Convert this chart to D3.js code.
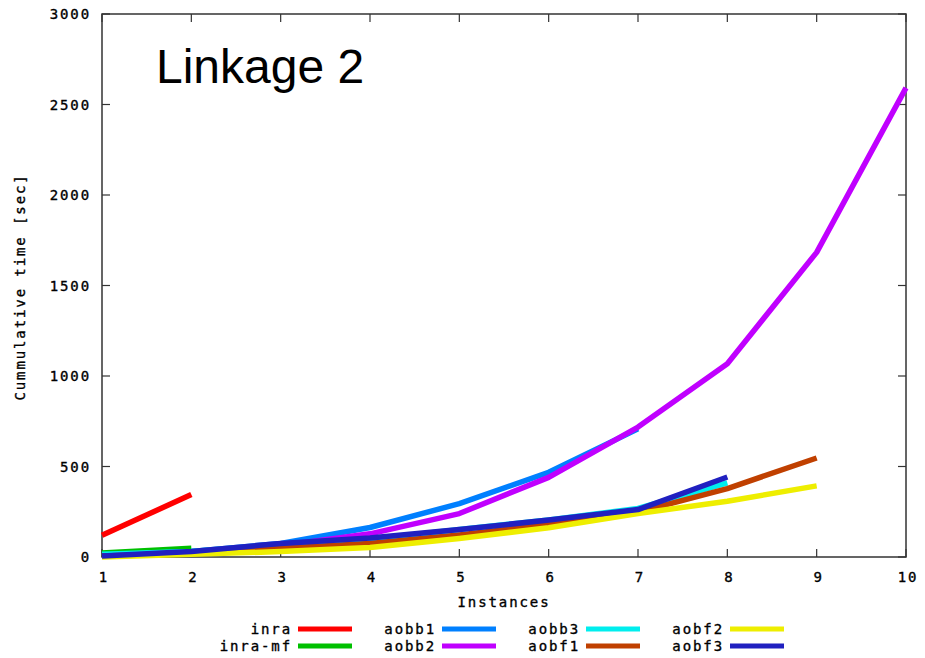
<!DOCTYPE html>
<html><head><meta charset="utf-8">
<script src="https://cdn.jsdelivr.net/npm/d3@7"></script>
<style>body{margin:0;background:#fff}svg{display:block}</style>
</head><body>
<script>
const instances = [1,2,3,4,5,6,7,8,9,10];
const seriesNames = ["inra","inra-mf","aobb1","aobb2","aobb3","aobf1","aobf2","aobf3"];
const seriesColors = ["#ff0000","#00c000","#0080ff","#c000ff","#00eeee","#c04000","#eeee00","#2020c0"];
const inra   = [120, 345];
const inraMf = [22, 48];
const aobb1  = [10, 30, 75, 163, 295, 468, 708];
const aobb2  = [5, 28, 62, 128, 240, 440, 718, 1068, 1683, 2592];
const aobb3  = [15, 30, 68, 95, 152, 205, 268, 410];
const aobf1  = [5, 20, 48, 75, 122, 180, 248, 378, 547];
const aobf2  = [0, 15, 30, 52, 102, 162, 240, 308, 393];
const aobf3  = [5, 30, 75, 105, 152, 204, 262, 442];
const seriesValues = [inra, inraMf, aobb1, aobb2, aobb3, aobf1, aobf2, aobf3];
const yTicks = [0,500,1000,1500,2000,2500,3000];
const titleText = "Linkage 2";
const xLabel = "Instances";
const yLabel = "Cummulative time [sec]";

const W = 925, H = 658;
const m = {left:102, right:19, top:14, bottom:101};
const svg = d3.select("body").append("svg").attr("width",W).attr("height",H);
const x = d3.scaleLinear().domain([1,10]).range([m.left, W-m.right]);
const y = d3.scaleLinear().domain([0,3000]).range([H-m.bottom, m.top]);
const font = "'DejaVu Sans Mono', 'Liberation Mono', monospace";
const axisCol = "#333";

// frame
svg.append("rect").attr("x",x(1)).attr("y",y(3000)).attr("width",x(10)-x(1)).attr("height",y(0)-y(3000))
  .attr("fill","none").attr("stroke",axisCol).attr("stroke-width",1.5);

// ticks inward, mirrored
const tl = 8;
const tg = svg.append("g").attr("stroke",axisCol).attr("stroke-width",1.2);
instances.forEach(v=>{
  tg.append("line").attr("x1",x(v)).attr("x2",x(v)).attr("y1",y(0)).attr("y2",y(0)-tl);
  tg.append("line").attr("x1",x(v)).attr("x2",x(v)).attr("y1",y(3000)).attr("y2",y(3000)+tl);
});
yTicks.forEach(v=>{
  tg.append("line").attr("x1",x(1)).attr("x2",x(1)+tl).attr("y1",y(v)).attr("y2",y(v));
  tg.append("line").attr("x1",x(10)).attr("x2",x(10)-tl).attr("y1",y(v)).attr("y2",y(v));
});

const txt = (sel)=>sel.attr("font-family",font).attr("font-size",14).attr("fill","#000")
  .attr("stroke","#000").attr("stroke-width",0.35).attr("letter-spacing","1.9px");

// tick labels
yTicks.forEach(v=>{
  svg.append("text").call(txt).attr("x",x(1)-11).attr("y",y(v)+5).attr("text-anchor","end").text(v);
});
instances.forEach(v=>{
  svg.append("text").call(txt).attr("x",x(v)+2).attr("y",y(0)+25).attr("text-anchor","middle").text(v);
});
svg.append("text").call(txt).attr("x",504).attr("y",607).attr("text-anchor","middle").text(xLabel);
svg.append("text").call(txt).attr("transform","translate(25,287) rotate(-90)").attr("text-anchor","middle").text(yLabel);

// title
svg.append("text").attr("x",156).attr("y",83).attr("font-family","'Liberation Sans', Arial, sans-serif")
  .attr("font-size",48).attr("fill","#000").text(titleText);

// lines
const line = d3.line().x((d,i)=>x(instances[i])).y(d=>y(d));
seriesValues.forEach((vals,i)=>{
  svg.append("path").datum(vals).attr("d",line).attr("fill","none")
    .attr("stroke",seriesColors[i]).attr("stroke-width",5.5).attr("stroke-linejoin","round");
});

// legend
const colTextEnd = [290, 434, 578, 722];
const rowY = [629, 646];
seriesNames.forEach((n,i)=>{
  const c = Math.floor(i/2), r = i%2;
  svg.append("text").call(txt).attr("x",colTextEnd[c]+2).attr("y",rowY[r]+5).attr("text-anchor","end").text(n);
  svg.append("line").attr("x1",colTextEnd[c]+8).attr("x2",colTextEnd[c]+62).attr("y1",rowY[r]).attr("y2",rowY[r])
    .attr("stroke",seriesColors[i]).attr("stroke-width",5);
});
</script>
</body></html>
